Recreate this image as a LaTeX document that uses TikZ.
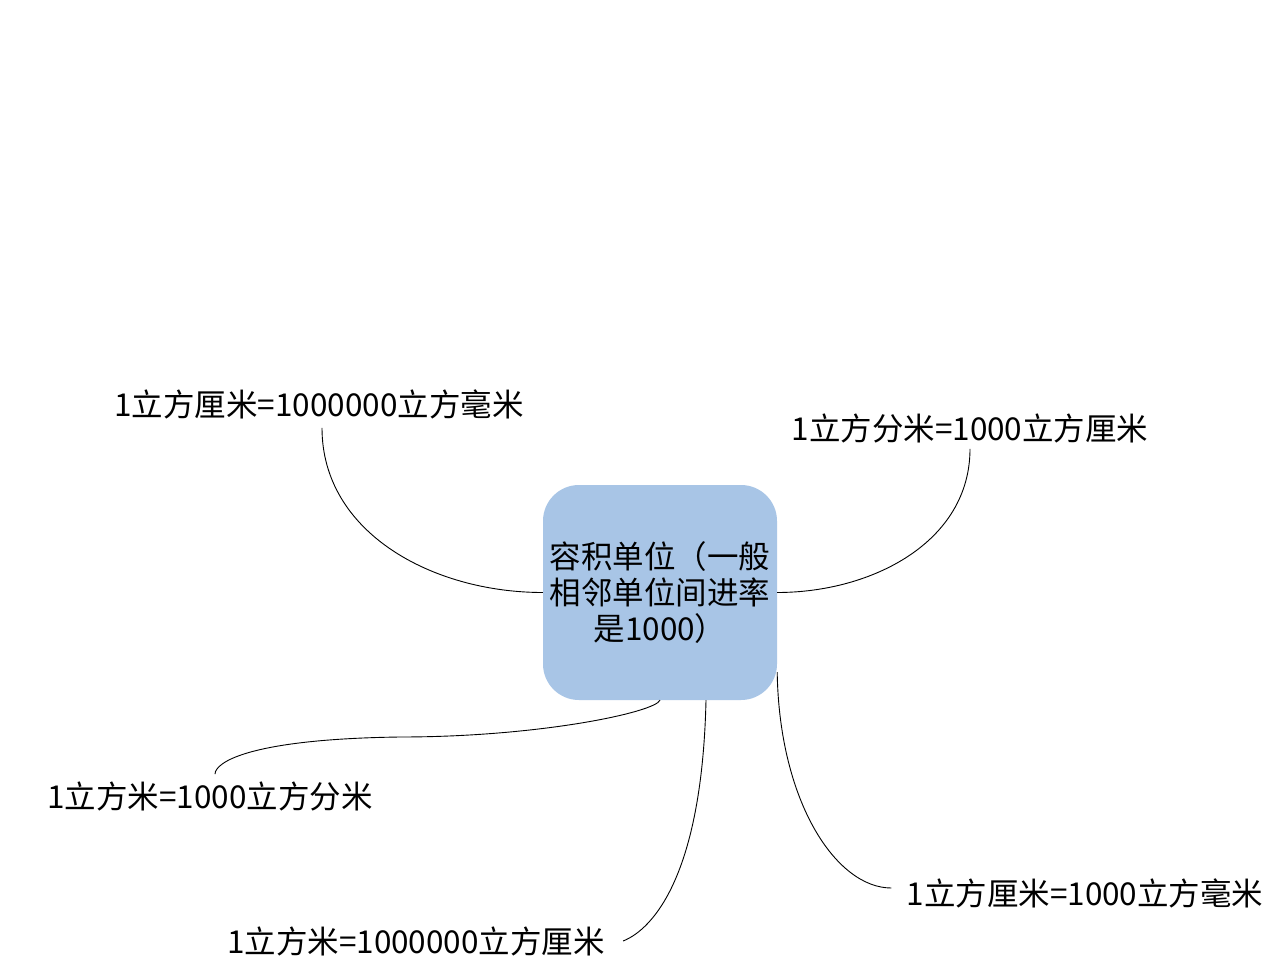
\documentclass[tikz,border=0pt]{standalone}
\usepackage{fontspec}
\setmainfont{Noto Sans CJK SC}
\definecolor{boxblue}{RGB}{168,197,230}
\begin{document}
\begin{tikzpicture}[x=1pt,y=-1pt,
  lbl/.style={inner sep=0pt, font=\fontsize{31.5}{36}\selectfont, text=black},
  ctr/.style={fill=boxblue, rounded corners=36pt, minimum width=234pt, minimum height=215pt,
    inner sep=0pt, align=center, font=\fontsize{31.5}{36}\selectfont},
  link/.style={draw=black, line width=0.9pt}]
\useasboundingbox (0,0) rectangle (1269,960);
\fill[white] (0,0) rectangle (1269,960);
\node[ctr] (c) at (660,592.5) {容积单位（一般\\相邻单位间进率\\是1000）};
\node[lbl] (l1) at (319,404) {1立方厘米=1000000立方毫米};
\node[lbl] (l2) at (970,428) {1立方分米=1000立方厘米};
\node[lbl] (l3) at (210,796) {1立方米=1000立方分米};
\node[lbl] (l4) at (416,941) {1立方米=1000000立方厘米};
\node[lbl] (l5) at (1085,893) {1立方厘米=1000立方毫米};
\draw[link] ([xshift=3pt,yshift=-9pt]l1.south) .. controls +(0,105) and +(-110,0) .. (c.west);
\draw[link] ([yshift=-6pt]l2.south) .. controls +(0,93) and +(95,0) .. (c.east);
\draw[link] (c.south) .. controls +(-5,12) and +(140,0) .. (400,737) .. controls +(-150,2) and +(0,-12) .. ([xshift=5pt,yshift=7pt]l3.north);
\draw[link] ([xshift=46pt]c.south) .. controls +(-4,175) and +(30,-12) .. ([xshift=18pt]l4.east);
\draw[link] ([yshift=28pt]c.south east) .. controls +(2,130) and +(-55,0) .. ([xshift=-15pt,yshift=5pt]l5.west);
\end{tikzpicture}
\end{document}
